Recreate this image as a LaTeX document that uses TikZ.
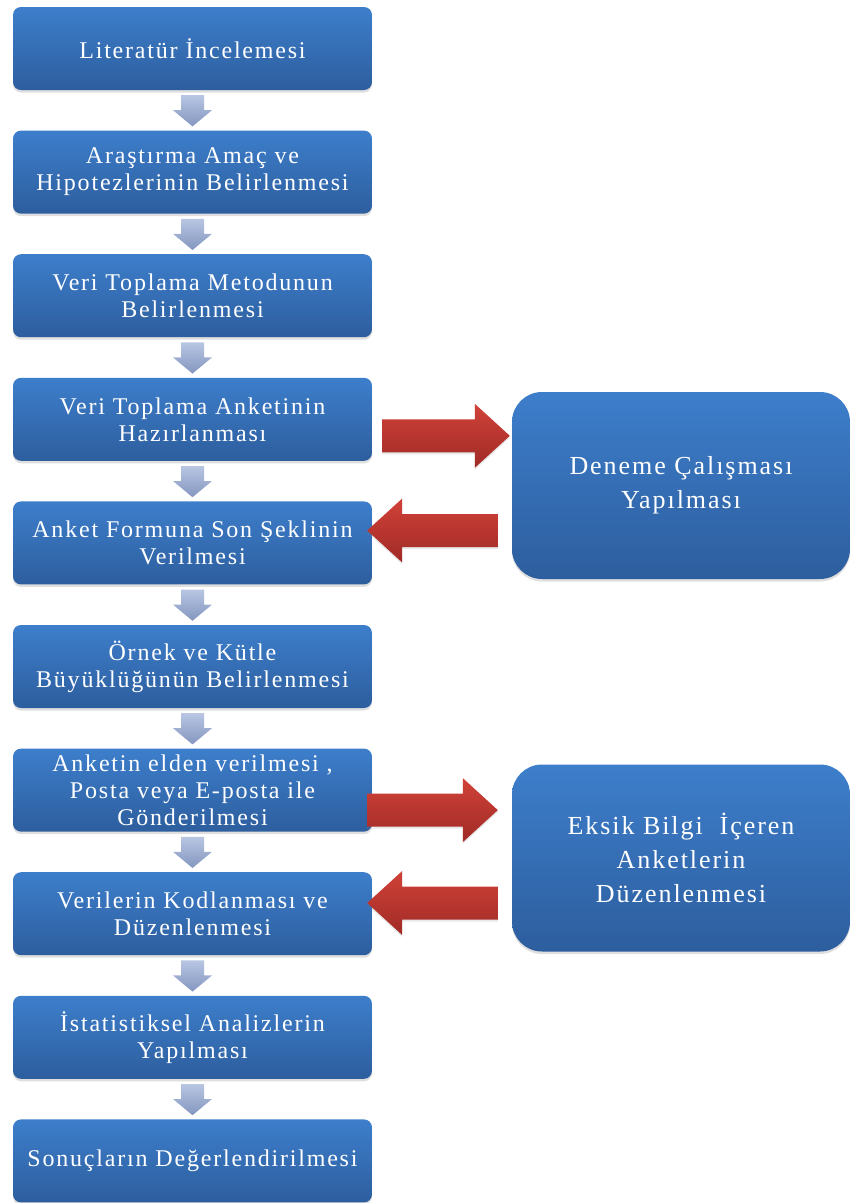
\documentclass[tikz,border=0pt]{standalone}
\usepackage{fontspec}
\newfontfamily\labelfont{Liberation Serif}[LetterSpace=7.5]
\usetikzlibrary{calc,shadows}

\definecolor{boxtop}{RGB}{61,126,203}
\definecolor{boxbot}{RGB}{45,94,158}
\definecolor{redtop}{RGB}{208,66,56}
\definecolor{redbot}{RGB}{160,42,38}
\definecolor{greytop}{RGB}{184,198,226}
\definecolor{greybot}{RGB}{132,150,192}

\tikzset{
  stepbox/.style={rounded corners=8pt, top color=boxtop, bottom color=boxbot,
    draw=none, minimum width=359pt, minimum height=83pt, inner sep=0pt,
    align=center, text=white, font=\labelfont\fontsize{24}{27}\selectfont,
    drop shadow={shadow xshift=0pt, shadow yshift=-2.5pt, opacity=0.25}},
  sidebox/.style={stepbox, rounded corners=30pt, minimum width=338pt,
    minimum height=187pt, font=\labelfont\fontsize{26}{34}\selectfont},
  flowarrow/.style={top color=greytop, bottom color=greybot, draw=none},
  redarrow/.style={top color=redtop, bottom color=redbot, draw=none,
    drop shadow={shadow xshift=0pt, shadow yshift=-2pt, opacity=0.18}},
}

% horizontal block arrow from tail #1 to tip #2
\newcommand{\redblock}[2]{%
  \coordinate (hb) at ($(#2)!35pt!(#1)$);
  \path[redarrow] ($(#1)+(0,-16.5)$) -- ($(hb)+(0,-16.5)$) -- ($(hb)+(0,-32)$)
    -- (#2) -- ($(hb)+(0,32)$) -- ($(hb)+(0,16.5)$) -- ($(#1)+(0,16.5)$) -- cycle;}

\begin{document}
\begin{tikzpicture}[x=1pt,y=-1pt]
\useasboundingbox[fill=white] (0,0) rectangle (851,1203);

% main sequence of steps
\node[stepbox] (b1)  at (192.5,48.5)  {Literatür İncelemesi};
\node[stepbox] (b2)  at (192.5,172.1) {Araştırma Amaç ve\\Hipotezlerinin Belirlenmesi};
\node[stepbox] (b3)  at (192.5,295.7) {Veri Toplama Metodunun\\Belirlenmesi};
\node[stepbox] (b4)  at (192.5,419.3) {Veri Toplama Anketinin\\Hazırlanması};
\node[stepbox] (b5)  at (192.5,542.9) {Anket Formuna Son Şeklinin\\Verilmesi};
\node[stepbox] (b6)  at (192.5,666.5) {Örnek ve Kütle\\Büyüklüğünün Belirlenmesi};
\node[stepbox] (b7)  at (192.5,790.1) {Anketin elden verilmesi ,\\Posta veya E-posta ile\\Gönderilmesi};
\node[stepbox] (b8)  at (192.5,913.7) {Verilerin Kodlanması ve\\Düzenlenmesi};
\node[stepbox] (b9)  at (192.5,1037.3) {İstatistiksel Analizlerin\\Yapılması};
\node[stepbox] (b10) at (192.5,1160.9) {Sonuçların Değerlendirilmesi};

% side loops
\node[sidebox] (dA) at (681,485.5) {Deneme Çalışması\\Yapılması};
\node[sidebox] (dB) at (681,858) {Eksik Bilgi\ \ İçeren\\Anketlerin\\Düzenlenmesi};

% downward block arrows between consecutive steps
\foreach \a/\b in {b1/b2,b2/b3,b3/b4,b4/b5,b5/b6,b6/b7,b7/b8,b8/b9,b9/b10}{
  \path[flowarrow] ($(\a.south)+(-11.5,5)$) -- ($(\a.south)+(11.5,5)$)
    -- ($(\a.south)+(11.5,20)$) -- ($(\a.south)+(19.5,20)$)
    -- ($(\b.north)+(0,-4)$) -- ($(\a.south)+(-19.5,20)$)
    -- ($(\a.south)+(-11.5,20)$) -- cycle;
}

% red block arrows to and from the side boxes
\coordinate (r1a) at ($(b4.east)+(10,16.5)$);
\coordinate (r1b) at ($(dA.west |- r1a)+(-2,0)$);
\redblock{r1a}{r1b}
\coordinate (r2b) at ($(b5.east)+(-5,-12.4)$);
\coordinate (r2a) at ($(dA.west |- r2b)+(-14,0)$);
\redblock{r2a}{r2b}
\coordinate (r3a) at ($(b7.east)+(-5,20)$);
\coordinate (r3b) at ($(dB.west |- r3a)+(-14,0)$);
\redblock{r3a}{r3b}
\coordinate (r4b) at ($(b8.east)+(-5,-10.7)$);
\coordinate (r4a) at ($(dB.west |- r4b)+(-14,0)$);
\redblock{r4a}{r4b}
\end{tikzpicture}
\end{document}
